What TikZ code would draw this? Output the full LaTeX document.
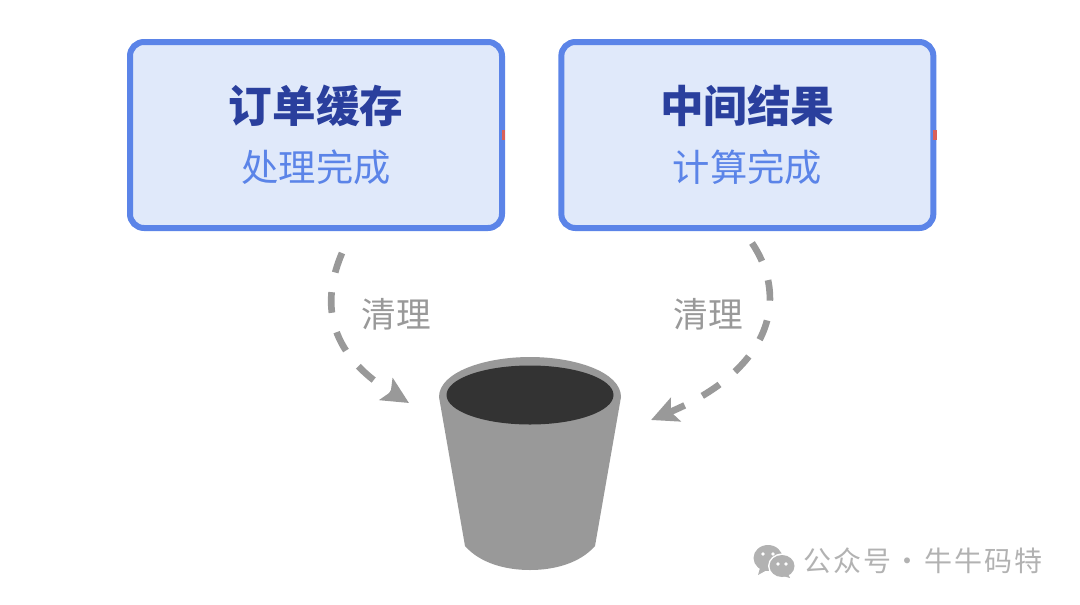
\documentclass[tikz,border=0pt]{standalone}
\usepackage{fontspec}
\setmainfont{Noto Sans CJK SC}
\newfontfamily\markfont[LetterSpace=8]{Noto Sans CJK SC}
\usetikzlibrary{arrows.meta, positioning}

\definecolor{boxline}{HTML}{5B84E8}
\definecolor{boxfill}{HTML}{E0E9FA}
\definecolor{titleblue}{HTML}{2A3F9D}
\definecolor{tickred}{HTML}{D9605A}
\definecolor{cleangray}{HTML}{999999}
\definecolor{bucketdark}{HTML}{333333}
\definecolor{markgray}{HTML}{B2B2B2}

\tikzset{
    statebox/.style={draw=boxline, fill=boxfill, line width=4.5pt, rounded corners=10.5pt,
        minimum width=279pt, minimum height=139.5pt, align=center, text=boxline,
        font=\fontsize{28}{33}\selectfont},
    cleanarrow/.style={draw=cleangray, line width=5pt, dash pattern=on 15.5pt off 15pt,
        -{Stealth[length=20pt, width=19pt, inset=4pt]}},
    cleanlabel/.style={text=cleangray, font=\fontsize{26}{30}\selectfont},
    redtick/.style={fill=tickred, draw=none, minimum width=2.5pt, minimum height=7.5pt,
        inner sep=0pt}
}
\newcommand{\boxtitle}[1]{{\fontsize{32.7}{38}\selectfont\bfseries\color{titleblue}#1}}

\begin{document}
\begin{tikzpicture}[x=0.75pt, y=-0.75pt]
    \useasboundingbox (0,0) rectangle (1080,604);

    % Order cache box
    \node[statebox] (order) at (316,135) {\boxtitle{订单缓存}\\[11.5pt]处理完成};
    \node[redtick, anchor=east] (ordertick) at (505.5,135) {};

    % Intermediate result box
    \node[statebox, right=40pt of order] (result) {\boxtitle{中间结果}\\[11.5pt]计算完成};
    \node[redtick, anchor=east] (resulttick) at (937,135) {};

    % Bucket
    \fill[cleangray] (439,397) .. controls (439,372) and (485,357) .. (530,357)
        .. controls (575,357) and (621,372) .. (621,397)
        -- (595,546) .. controls (580,563) and (555,570) .. (530,570)
        .. controls (505,570) and (480,563) .. (465,546) -- cycle;
    \fill[bucketdark] (530,395) ellipse [x radius=83.5, y radius=29.5];

    % Free ends of the cleanup arrows
    \coordinate (orderout) at (342,253);
    \coordinate (bucketleft) at (409,403);
    \coordinate (resultout) at (752,243);
    \coordinate (bucketright) at (651,420);

    % Cleanup arrows
    \draw[cleanarrow] (orderout) .. controls (322,300) and (325,352) .. (bucketleft);
    \node[cleanlabel] (cleanleft) at (396.5,314) {清理};
    \draw[cleanarrow] (resultout) .. controls (790,300) and (770,370) .. (bucketright);
    \node[cleanlabel] (cleanright) at (708.5,314) {清理};

    % Watermark
    \fill[markgray] (768,558) ellipse [x radius=14.5, y radius=13];
    \fill[markgray] (760,568) -- (758,575) -- (767,570) -- cycle;
    \fill[white] (782,566) ellipse [x radius=14, y radius=12.5];
    \fill[markgray] (782,566) ellipse [x radius=12.5, y radius=11];
    \fill[markgray] (788,574) -- (790,578) -- (783,576) -- cycle;
    \foreach \eyex/\eyey in {763/554, 773/554, 778/564, 786/564}
        \fill[white] (\eyex,\eyey) circle [radius=1.8];
    \node[text=markgray, font=\markfont\fontsize{21}{24}\selectfont, anchor=west, inner sep=0pt]
        (wechat) at (803,561) {公众号·牛牛码特};

\end{tikzpicture}
\end{document}
